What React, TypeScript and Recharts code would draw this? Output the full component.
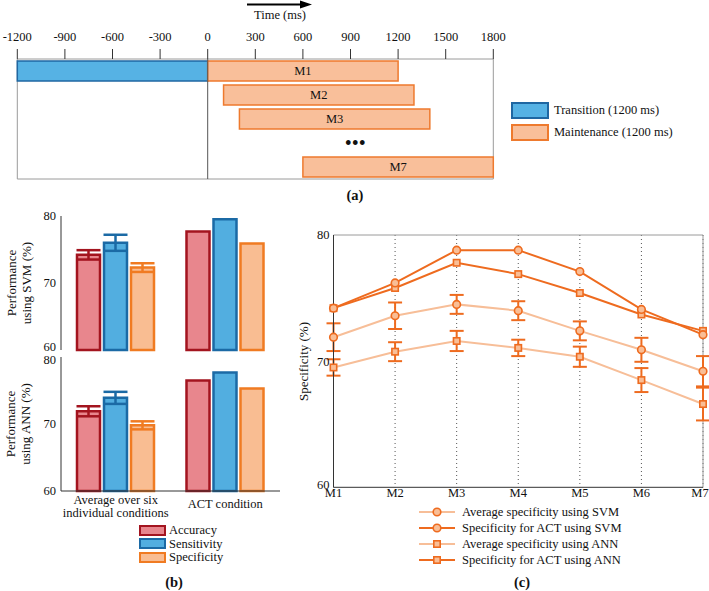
import React from "react";
import {
  BarChart,
  Bar,
  LineChart,
  Line,
  XAxis,
  YAxis,
  CartesianGrid,
  Legend,
  ReferenceArea,
  ReferenceLine,
  ReferenceDot,
  LabelList,
  ErrorBar,
} from "recharts";

const FONT = "'Liberation Serif', 'DejaVu Serif', serif";

// (a) timeline of the windows
const rows = ["r1", "r2", "r3", "r4", "r5"];
const windowNames = ["M1", "M2", "M3", "", "M7"];
const transitionStart = [-1200, null, null, null, null];
const transitionEnd = [0, null, null, null, null];
const maintStart = [0, 100, 200, null, 600];
const maintEnd = [1200, 1300, 1400, null, 1800];
const timeTicks = [-1200, -900, -600, -300, 0, 300, 600, 900, 1200, 1500, 1800];

// (b) performance bars
const conditions = ["Average over six|individual conditions", "ACT condition"];
const svmAccuracy = [74.2, 77.7];
const svmAccuracyErr = [0.7, null];
const svmSensitivity = [76.0, 79.5];
const svmSensitivityErr = [1.2, null];
const svmSpecificity = [72.3, 75.9];
const svmSpecificityErr = [0.65, null];
const annAccuracy = [71.9, 76.5];
const annAccuracyErr = [0.75, null];
const annSensitivity = [73.9, 77.7];
const annSensitivityErr = [0.9, null];
const annSpecificity = [69.8, 75.3];
const annSpecificityErr = [0.6, null];
const perfTicks = [60, 70, 80];

// (c) specificity per window
const windows = ["M1", "M2", "M3", "M4", "M5", "M6", "M7"];
const svmAvg = [71.9, 73.6, 74.5, 74.0, 72.4, 70.9, 69.2];
const svmAvgErr = [1.1, 1.05, 0.75, 0.75, 0.75, 0.95, 1.2];
const svmAct = [74.2, 76.2, 78.8, 78.8, 77.1, 74.1, 72.1];
const annAvg = [69.5, 70.75, 71.6, 71.05, 70.35, 68.5, 66.6];
const annAvgErr = [0.65, 0.75, 0.8, 0.65, 0.8, 0.95, 1.3];
const annAct = [74.2, 75.8, 77.8, 76.9, 75.4, 73.7, 72.4];

const timelineData = rows.map((row, i) => ({
  row,
  label: windowNames[i],
  transition: transitionStart[i] == null ? null : [transitionStart[i], transitionEnd[i]],
  maintenance: maintStart[i] == null ? null : [maintStart[i], maintEnd[i]],
}));

const svmData = conditions.map((cond, i) => ({
  cond,
  acc: svmAccuracy[i],
  accErr: svmAccuracyErr[i],
  sens: svmSensitivity[i],
  sensErr: svmSensitivityErr[i],
  spec: svmSpecificity[i],
  specErr: svmSpecificityErr[i],
}));

const annData = conditions.map((cond, i) => ({
  cond,
  acc: annAccuracy[i],
  accErr: annAccuracyErr[i],
  sens: annSensitivity[i],
  sensErr: annSensitivityErr[i],
  spec: annSpecificity[i],
  specErr: annSpecificityErr[i],
}));

const specData = windows.map((win, i) => ({
  win,
  svmAvg: svmAvg[i],
  svmAvgErr: svmAvgErr[i],
  svmAct: svmAct[i],
  annAvg: annAvg[i],
  annAvgErr: annAvgErr[i],
  annAct: annAct[i],
}));

const DARK = "#EE6B1F";
const LIGHT = "#F7BE98";
const MARK_FILL = "#F9BE96";

const boxStyles: Record<string, { fill: string; stroke: string }> = {
  transition: { fill: "#56B2E4", stroke: "#1F67A2" },
  maintenance: { fill: "#F9BF9A", stroke: "#EE7A2E" },
  acc: { fill: "#E8868D", stroke: "#A3141F" },
  sens: { fill: "#52AEE0", stroke: "#1B6AA5" },
  spec: { fill: "#F9BD92", stroke: "#F07B22" },
};

const lineStyles: Record<string, { color: string; shape: string }> = {
  svmAvg: { color: LIGHT, shape: "circle" },
  svmAct: { color: DARK, shape: "circle" },
  annAvg: { color: LIGHT, shape: "square" },
  annAct: { color: DARK, shape: "square" },
};

const tickFont = { fontSize: 12.5, fontFamily: FONT, fill: "#111" };

function sortByOrder(payload: any[], order: string[]) {
  return [...(payload || [])].sort(
    (a, b) => order.indexOf(a.dataKey) - order.indexOf(b.dataKey)
  );
}

function BoxLegend({ payload, order, w, h, gap, textGap }: any) {
  return (
    <div style={{ fontFamily: FONT, fontSize: 12.5, color: "#111" }}>
      {sortByOrder(payload, order).map((p: any) => {
        const s = boxStyles[p.dataKey];
        return (
          <div
            key={p.dataKey}
            style={{ display: "flex", alignItems: "center", height: h, marginBottom: gap }}
          >
            <span
              style={{
                display: "inline-block",
                boxSizing: "border-box",
                width: w,
                height: h,
                background: s.fill,
                border: `2px solid ${s.stroke}`,
                marginRight: textGap,
              }}
            />
            <span style={{ whiteSpace: "nowrap", lineHeight: 1 }}>{p.value}</span>
          </div>
        );
      })}
    </div>
  );
}

function Marker({ cx, cy, shape }: any) {
  if (shape === "square")
    return (
      <rect x={cx - 3.2} y={cy - 3.2} width={6.4} height={6.4} fill={MARK_FILL} stroke={DARK} strokeWidth={1.6} />
    );
  return <circle cx={cx} cy={cy} r={3.8} fill={MARK_FILL} stroke={DARK} strokeWidth={1.6} />;
}

function LineLegend({ payload }: any) {
  const order = ["svmAvg", "svmAct", "annAvg", "annAct"];
  return (
    <div style={{ fontFamily: FONT, fontSize: 12.5, color: "#111" }}>
      {sortByOrder(payload, order).map((p: any) => {
        const s = lineStyles[p.dataKey];
        return (
          <div key={p.dataKey} style={{ display: "flex", alignItems: "center", height: 16 }}>
            <svg width={36} height={12} style={{ marginRight: 7 }}>
              <line x1={0} y1={6} x2={36} y2={6} stroke={s.color} strokeWidth={2} />
              <Marker cx={18} cy={6} shape={s.shape} />
            </svg>
            <span style={{ whiteSpace: "nowrap" }}>{p.value}</span>
          </div>
        );
      })}
    </div>
  );
}

function CondTick({ x, y, payload }: any) {
  const lines = String(payload.value).split("|");
  return (
    <text x={x} y={y} textAnchor="middle" {...tickFont}>
      {lines.map((l, i) => (
        <tspan key={l} x={x} dy={i === 0 ? (lines.length > 1 ? 12.5 : 17) : 13.5}>
          {l}
        </tspan>
      ))}
    </text>
  );
}

// window labels; the last one is pulled in so it stays on the page
function WinTick({ x, y, payload }: any) {
  const dx = payload.value === "M7" ? -3 : 0;
  return (
    <text x={x + dx} y={y} dy="0.71em" textAnchor="middle" {...tickFont}>
      {payload.value}
    </text>
  );
}

// y tick labels, with MATLAB-like nudges of the end labels
function YTick({ x, y, payload, shift }: any) {
  const dy = (shift && shift[payload.value]) || 0;
  return (
    <text x={x} y={y + dy} dy="0.355em" textAnchor="end" {...tickFont}>
      {payload.value}
    </text>
  );
}

function VLabel({ cx, cy, lines }: { cx: number; cy: number; lines: string[] }) {
  const w = 170;
  const h = lines.length * 15;
  return (
    <div
      style={{
        position: "absolute",
        left: cx - w / 2,
        top: cy - h / 2,
        width: w,
        height: h,
        transform: "rotate(-90deg)",
        textAlign: "center",
        fontFamily: FONT,
        fontSize: 13,
        lineHeight: "15px",
        color: "#111",
      }}
    >
      {lines.map((l) => (
        <div key={l}>{l}</div>
      ))}
    </div>
  );
}

function Caption({ cx, cy, text }: { cx: number; cy: number; text: string }) {
  return (
    <div
      style={{
        position: "absolute",
        left: cx - 20,
        top: cy - 9,
        width: 40,
        textAlign: "center",
        fontFamily: FONT,
        fontWeight: "bold",
        fontSize: 14.5,
        lineHeight: "18px",
        color: "#111",
      }}
    >
      {text}
    </div>
  );
}

function PerfChart({ data, top, height, margin, showX, shift }: any) {
  return (
    <div style={{ position: "absolute", left: 0, top }}>
      <BarChart width={290} height={height} data={data} margin={margin} barSize={23} barGap={4}>
        <XAxis
          dataKey="cond"
          height={showX ? 39 : 0}
          tickLine={false}
          tickSize={0}
          tickMargin={0}
          interval={0}
          tick={showX ? <CondTick /> : false}
          axisLine={{ stroke: "#333" }}
        />
        <YAxis
          domain={[60, 80]}
          ticks={perfTicks}
          width={61}
          tickLine={false}
          tickSize={0}
          tickMargin={5}
          interval={0}
          tick={<YTick shift={shift} />}
          axisLine={{ stroke: "#333" }}
        />
        {["acc", "sens", "spec"].map((k) => (
          <Bar
            key={k}
            dataKey={k}
            name={k === "acc" ? "Accuracy" : k === "sens" ? "Sensitivity" : "Specificity"}
            fill={boxStyles[k].fill}
            stroke={boxStyles[k].stroke}
            strokeWidth={2.5}
            isAnimationActive={false}
          >
            <ErrorBar dataKey={k + "Err"} width={12} strokeWidth={2.5} stroke={boxStyles[k].stroke} />
          </Bar>
        ))}
        {showX && (
          <Legend
            layout="horizontal"
            verticalAlign="middle"
            align="center"
            wrapperStyle={{ left: 139, top: 185, width: 120 }}
            content={(p: any) => (
              <BoxLegend payload={p.payload} order={["acc", "sens", "spec"]} w={27} h={11} gap={2.3} textGap={3} />
            )}
          />
        )}
      </BarChart>
    </div>
  );
}

export default function App() {
  return (
    <div style={{ position: "absolute", left: 0, top: 0, width: 709, height: 591, background: "#fff" }}>
      {/* (a) */}
      <div style={{ position: "absolute", left: 0, top: 0 }}>
        <BarChart
          width={709}
          height={200}
          data={timelineData}
          layout="vertical"
          margin={{ top: 0, right: 215.7, left: 17.3, bottom: 21 }}
          barSize={20}
          barGap={-20}
        >
          <XAxis
            type="number"
            orientation="top"
            domain={[-1200, 1800]}
            ticks={timeTicks}
            height={59}
            axisLine={false}
            tickSize={10}
            tickMargin={8}
            interval={0}
            tickLine={{ stroke: "#333" }}
            tick={tickFont}
          />
          <YAxis type="category" dataKey="row" hide width={0} />
          <ReferenceArea x1={-1200} x2={1800} fill="none" stroke="#9a9a9a" strokeWidth={1} />
          <Bar
            dataKey="transition"
            name="Transition (1200 ms)"
            fill={boxStyles.transition.fill}
            stroke={boxStyles.transition.stroke}
            strokeWidth={1.5}
            isAnimationActive={false}
          />
          <Bar
            dataKey="maintenance"
            name="Maintenance (1200 ms)"
            fill={boxStyles.maintenance.fill}
            stroke={boxStyles.maintenance.stroke}
            strokeWidth={1.5}
            isAnimationActive={false}
          >
            <LabelList dataKey="label" position="center" fill="#111" fontSize={12.5} fontFamily={FONT} />
          </Bar>
          <ReferenceLine x={0} stroke="#555" strokeWidth={1} />
          <ReferenceDot
            x={930}
            y="r4"
            r={0}
            label={{ value: "•••", position: "center", fontSize: 20, fill: "#111", fontFamily: FONT }}
          />
          <Legend
            layout="horizontal"
            verticalAlign="middle"
            align="center"
            wrapperStyle={{ left: 511, top: 102, width: 190 }}
            content={(p: any) => (
              <BoxLegend payload={p.payload} order={["transition", "maintenance"]} w={38} h={17} gap={5} textGap={5} />
            )}
          />
        </BarChart>
      </div>
      <svg style={{ position: "absolute", left: 240, top: 0 }} width={80} height={10}>
        <line x1={7} y1={4.5} x2={62} y2={4.5} stroke="#000" strokeWidth={2} />
        <polygon points="60,0.5 72,4.5 60,8.5" fill="#000" />
      </svg>
      <div style={{ position: "absolute", left: 230, top: 8, width: 100, textAlign: "center", fontFamily: FONT, fontSize: 12.5, color: "#111" }}>
        Time (ms)
      </div>
      <Caption cx={355} cy={195} text="(a)" />

      {/* (b) */}
      <PerfChart data={svmData} top={200} height={160} margin={{ top: 16, right: 10, left: 0, bottom: 10 }} showX={false} shift={{ 60: -3.3 }} />
      <PerfChart data={annData} top={340} height={190} margin={{ top: 17, right: 10, left: 0, bottom: 0 }} showX={true} shift={{ 80: 2.5 }} />
      <VLabel cx={19} cy={283} lines={["Performance", "using SVM (%)"]} />
      <VLabel cx={18} cy={424} lines={["Performance", "using ANN (%)"]} />
      <Caption cx={174} cy={582} text="(b)" />

      {/* (c) */}
      <div style={{ position: "absolute", left: 280, top: 220 }}>
        <LineChart
          width={429}
          height={360}
          data={specData}
          margin={{ top: 15, right: 6, left: 0, bottom: 72.7 }}
        >
          <CartesianGrid vertical horizontal={false} stroke="#555" strokeDasharray="1 3" />
          <XAxis
            dataKey="win"
            height={20}
            tickLine={false}
            tickSize={0}
            tickMargin={1}
            tick={<WinTick />}
            axisLine={{ stroke: "#333" }}
            interval={0}
          />
          <YAxis
            domain={[60, 80]}
            ticks={[60, 70, 80]}
            width={53.5}
            tickLine={false}
            tickSize={0}
            tickMargin={4}
            interval={0}
            tick={<YTick shift={{ 60: -3 }} />}
            axisLine={{ stroke: "#333" }}
          />
          <ReferenceLine y={80} stroke="#9a9a9a" />
          <ReferenceLine x="M7" stroke="#9a9a9a" />
          <Line
            dataKey="svmAvg"
            name="Average specificity using SVM"
            stroke={LIGHT}
            strokeWidth={2}
            dot={(p: any) => <Marker key={p.index} cx={p.cx} cy={p.cy} shape="circle" />}
            isAnimationActive={false}
          >
            <ErrorBar dataKey="svmAvgErr" width={7} strokeWidth={2} stroke={DARK} />
          </Line>
          <Line
            dataKey="annAvg"
            name="Average specificity using ANN"
            stroke={LIGHT}
            strokeWidth={2}
            dot={(p: any) => <Marker key={p.index} cx={p.cx} cy={p.cy} shape="square" />}
            isAnimationActive={false}
          >
            <ErrorBar dataKey="annAvgErr" width={7} strokeWidth={2} stroke={DARK} />
          </Line>
          <Line
            dataKey="annAct"
            name="Specificity for ACT using ANN"
            stroke={DARK}
            strokeWidth={2}
            dot={(p: any) => <Marker key={p.index} cx={p.cx} cy={p.cy} shape="square" />}
            isAnimationActive={false}
          />
          <Line
            dataKey="svmAct"
            name="Specificity for ACT using SVM"
            stroke={DARK}
            strokeWidth={2}
            dot={(p: any) => <Marker key={p.index} cx={p.cx} cy={p.cy} shape="circle" />}
            isAnimationActive={false}
          />
          <Legend
            layout="horizontal"
            verticalAlign="middle"
            align="center"
            wrapperStyle={{ left: 139, top: 284, width: 240 }}
            content={(p: any) => <LineLegend payload={p.payload} />}
          />
        </LineChart>
      </div>
      <VLabel cx={303} cy={361} lines={["Specificity (%)"]} />
      <Caption cx={522} cy={582} text="(c)" />
    </div>
  );
}
